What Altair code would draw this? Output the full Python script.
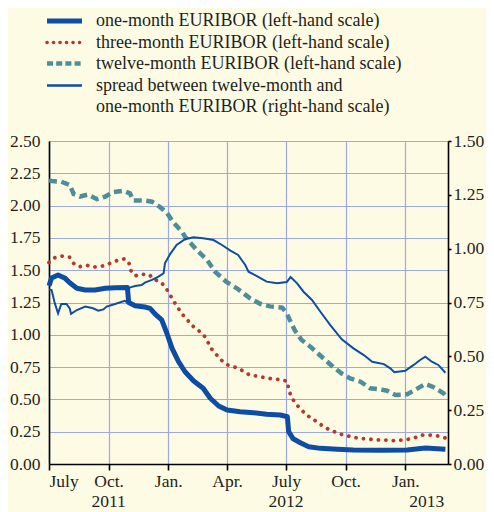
import altair as alt
import pandas as pd

# ---------------- data ----------------
one_month_dates = [
    "2011-07-01", "2011-07-05", "2011-07-15", "2011-07-26", "2011-08-02", "2011-08-13",
    "2011-08-26", "2011-09-10", "2011-09-26", "2011-10-11", "2011-10-30", "2011-11-01",
    "2011-11-11", "2011-11-26", "2011-12-04", "2011-12-12", "2011-12-22", "2011-12-30",
    "2012-01-07", "2012-01-17", "2012-01-27", "2012-02-09", "2012-02-24", "2012-03-06",
    "2012-03-19", "2012-04-01", "2012-04-21", "2012-05-12", "2012-06-01", "2012-06-22",
    "2012-07-03", "2012-07-05", "2012-07-12", "2012-07-23", "2012-08-05", "2012-08-23",
    "2012-09-18", "2012-10-13", "2012-11-23", "2013-01-04", "2013-02-01", "2013-03-04",
]
one_month_vals = [
    1.38, 1.44, 1.463, 1.437, 1.403, 1.36,
    1.347, 1.347, 1.36, 1.365, 1.367, 1.25,
    1.225, 1.215, 1.205, 1.16, 1.115, 1.012,
    0.895, 0.792, 0.714, 0.645, 0.586, 0.509,
    0.449, 0.418, 0.405, 0.397, 0.385, 0.379,
    0.366, 0.25, 0.195, 0.165, 0.134, 0.121,
    0.114, 0.108, 0.106, 0.108, 0.124, 0.114,
]

three_month_dates = [
    "2011-07-01", "2011-07-10", "2011-07-22", "2011-08-02", "2011-08-08",
    "2011-08-17", "2011-08-28", "2011-09-10", "2011-09-21", "2011-10-03",
    "2011-10-14", "2011-10-25", "2011-11-01", "2011-11-04", "2011-11-11",
    "2011-11-21", "2011-12-03", "2011-12-09", "2011-12-21", "2011-12-28",
    "2012-01-03", "2012-01-09", "2012-01-15", "2012-01-22", "2012-01-30",
    "2012-02-06", "2012-02-17", "2012-02-25", "2012-03-02", "2012-03-08",
    "2012-03-16", "2012-03-24", "2012-04-03", "2012-04-14", "2012-04-25",
    "2012-05-05", "2012-05-18", "2012-05-30", "2012-06-11", "2012-06-23",
    "2012-07-03", "2012-07-05", "2012-07-09", "2012-07-15", "2012-07-23",
    "2012-08-01", "2012-08-10", "2012-08-20", "2012-08-29", "2012-09-09",
    "2012-09-20", "2012-09-30", "2012-10-13", "2012-10-25", "2012-11-05",
    "2012-11-18", "2012-11-30", "2012-12-11", "2012-12-23", "2013-01-05",
    "2013-01-16", "2013-01-28", "2013-02-08", "2013-02-20", "2013-03-04",
]
three_month_vals = [
    1.56, 1.597, 1.61, 1.60, 1.553,
    1.527, 1.538, 1.525, 1.532, 1.553,
    1.574, 1.587, 1.565, 1.50, 1.457,
    1.468, 1.465, 1.432, 1.406, 1.367,
    1.316, 1.264, 1.218, 1.163, 1.12,
    1.076, 1.032, 0.998, 0.947, 0.89,
    0.844, 0.80, 0.764, 0.748, 0.722,
    0.691, 0.679, 0.668, 0.658, 0.652,
    0.64, 0.578, 0.521, 0.472, 0.428,
    0.382, 0.351, 0.32, 0.284, 0.261,
    0.235, 0.222, 0.207, 0.196, 0.194,
    0.186, 0.186, 0.18, 0.183, 0.191,
    0.204, 0.224, 0.224, 0.217, 0.201,
]

twelve_month_dates = [
    "2011-07-01", "2011-07-05", "2011-07-20", "2011-08-02", "2011-08-08", "2011-08-18", "2011-08-30",
    "2011-09-13", "2011-09-26", "2011-10-08", "2011-10-24", "2011-11-03", "2011-11-08", "2011-11-24",
    "2011-12-07", "2011-12-19", "2011-12-30", "2012-01-09", "2012-01-22", "2012-01-27", "2012-02-14",
    "2012-03-01", "2012-03-13", "2012-03-31", "2012-04-16", "2012-05-07", "2012-05-22", "2012-06-06",
    "2012-06-25", "2012-07-02", "2012-07-12", "2012-07-15", "2012-07-25", "2012-08-07", "2012-08-25",
    "2012-09-12", "2012-09-25", "2012-10-08", "2012-10-24", "2012-11-08", "2012-11-23", "2012-12-04",
    "2012-12-17", "2013-01-04", "2013-01-16", "2013-02-01", "2013-02-14", "2013-03-01", "2013-03-04",
]
twelve_month_vals = [
    2.195, 2.19, 2.185, 2.16, 2.09, 2.07, 2.085,
    2.05, 2.07, 2.105, 2.115, 2.095, 2.04, 2.04,
    2.03, 1.99, 1.945, 1.87, 1.80, 1.76, 1.656,
    1.58, 1.49, 1.41, 1.36, 1.28, 1.24, 1.22,
    1.21, 1.165, 1.06, 1.03, 0.96, 0.91, 0.83,
    0.75, 0.70, 0.663, 0.637, 0.586, 0.578, 0.567,
    0.534, 0.54, 0.573, 0.62, 0.594, 0.547, 0.53,
]

spread_dates = [
    "2011-07-01", "2011-07-05", "2011-07-10", "2011-07-15", "2011-07-20", "2011-07-28",
    "2011-08-02", "2011-08-04", "2011-08-13", "2011-08-26", "2011-09-07", "2011-09-15",
    "2011-09-23", "2011-09-28", "2011-10-11", "2011-10-26", "2011-10-31", "2011-11-02",
    "2011-11-11", "2011-11-21", "2011-11-26", "2011-12-07", "2011-12-17", "2011-12-25",
    "2011-12-27", "2012-01-04", "2012-01-14", "2012-01-27", "2012-02-09", "2012-02-24",
    "2012-03-11", "2012-03-24", "2012-04-06", "2012-04-18", "2012-04-29", "2012-05-04",
    "2012-05-17", "2012-06-01", "2012-06-17", "2012-07-02", "2012-07-08", "2012-07-18",
    "2012-07-28", "2012-08-10", "2012-08-23", "2012-09-07", "2012-09-25", "2012-10-13",
    "2012-10-29", "2012-11-11", "2012-11-29", "2012-12-09", "2012-12-15", "2013-01-01",
    "2013-01-14", "2013-01-24", "2013-02-01", "2013-02-11", "2013-02-21", "2013-03-04",
]
spread_vals = [
    0.81, 0.808, 0.746, 0.70, 0.743, 0.743,
    0.723, 0.697, 0.715, 0.731, 0.723, 0.712,
    0.718, 0.731, 0.743, 0.758, 0.749, 0.819,
    0.827, 0.831, 0.842, 0.855, 0.87, 0.886,
    0.932, 0.975, 1.017, 1.044, 1.053, 1.048,
    1.04, 1.017, 0.991, 0.971, 0.924, 0.893,
    0.873, 0.847, 0.839, 0.845, 0.868, 0.839,
    0.80, 0.762, 0.707, 0.646, 0.579, 0.537,
    0.506, 0.475, 0.464, 0.444, 0.426, 0.433,
    0.46, 0.483, 0.498, 0.475, 0.46, 0.424,
]

legend_labels = [
    "one-month EURIBOR (left-hand scale)",
    "three-month EURIBOR (left-hand scale)",
    "twelve-month EURIBOR (left-hand scale)",
    "spread between twelve-month and",
    "one-month EURIBOR (right-hand scale)",
]

left_ticks = [0.0, 0.25, 0.5, 0.75, 1.0, 1.25, 1.5, 1.75, 2.0, 2.25, 2.5]
right_ticks = [0.0, 0.25, 0.5, 0.75, 1.0, 1.25, 1.5]
tick_months = [(2011, 7), (2011, 10), (2012, 1), (2012, 4), (2012, 7), (2012, 10), (2013, 1)]
month_names = {1: "Jan.", 4: "Apr.", 7: "July", 10: "Oct."}
year_labels = ["2011", "2012", "2013"]
year_label_dates = ["2011-10-01", "2012-07-01", "2013-02-03"]

# ---------------- styling ----------------
BG = "#FEFBE5"
BLUE = "#0E4DA4"
RED = "#B23A2E"
TEAL = "#4E8D9A"
GRID = "#9DA9E6"
TXT = "#231F20"
FONT = "Liberation Serif"
FS = 17.5
FS_LEG = 18

W, H = 399, 323

df_one = pd.DataFrame({"date": one_month_dates, "value": one_month_vals})
df_three = pd.DataFrame({"date": three_month_dates, "value": three_month_vals})
df_twelve = pd.DataFrame({"date": twelve_month_dates, "value": twelve_month_vals})
df_spread = pd.DataFrame({"date": spread_dates, "value": spread_vals})

x_scale = alt.Scale(
    type="utc",
    domain=[alt.DateTime(year=2011, month=7, date=1, utc=True),
            alt.DateTime(year=2013, month=3, date=8, utc=True)],
)

label_expr = " : ".join(
    f"utcmonth(datum.value)=={m - 1} ? '{n}'" for m, n in month_names.items()
) + " : ''"

x_axis = alt.Axis(
    values=[alt.DateTime(year=y, month=m, date=1, utc=True) for y, m in tick_months],
    labelExpr=label_expr,
    title=None,
    grid=True, gridColor=GRID, gridWidth=1.2,
    domainColor="black", domainWidth=1.6,
    tickColor="black", tickSize=6, tickWidth=1.6,
    labelFont=FONT, labelFontSize=FS, labelColor=TXT, labelPadding=2,
)
x_enc = alt.X("date:T", scale=x_scale, axis=x_axis)

left_axis = alt.Axis(
    values=left_ticks, format=".2f", title=None,
    grid=True, gridColor=GRID, gridWidth=1.2,
    domainColor="black", domainWidth=1.6, ticks=False,
    labelFont=FONT, labelFontSize=FS, labelColor=TXT, labelPadding=9,
)
left_scale = alt.Scale(domain=[0, 2.5], nice=False, zero=True)
y_left = alt.Y("value:Q", scale=left_scale, axis=left_axis)

right_axis = alt.Axis(
    orient="right", values=right_ticks, format=".2f", title=None,
    grid=False, domainColor="black", domainWidth=1.6,
    tickColor="black", tickSize=3, tickWidth=1.6,
    labelFont=FONT, labelFontSize=FS, labelColor=TXT, labelPadding=2,
)
right_scale = alt.Scale(domain=[0, 1.5], nice=False, zero=True)

one = alt.Chart(df_one).mark_line(color=BLUE, strokeWidth=5, strokeJoin="round").encode(
    x=x_enc, y=y_left
)
three = alt.Chart(df_three).mark_line(
    color=RED, strokeWidth=3.8, strokeDash=[0.1, 7.4], strokeCap="round"
).encode(x=x_enc, y=y_left)
twelve = alt.Chart(df_twelve).mark_line(
    color=TEAL, strokeWidth=4.5, strokeDash=[8, 4.5]
).encode(x=x_enc, y=y_left)

left_layer = alt.layer(one, three, twelve)

spread = alt.Chart(df_spread).mark_line(color=BLUE, strokeWidth=2).encode(
    x=x_enc, y=alt.Y("value:Q", scale=right_scale, axis=right_axis)
)

years = alt.Chart(pd.DataFrame({"year": year_labels, "date": year_label_dates})).mark_text(
    font=FONT, fontSize=FS, color=TXT, baseline="middle", align="center"
).encode(x=x_enc, y=alt.value(H + 38), text="year:N")

# ---------------- legend (drawn by hand) ----------------
legend_layers = []
row_y = [-120, -98.5, -77.5, -55.5, -34.5]
sample_styles = [
    dict(color=BLUE, strokeWidth=5),
    dict(color=RED, strokeWidth=3.6, strokeDash=[0.1, 6.4], strokeCap="round"),
    dict(color=TEAL, strokeWidth=4.5, strokeDash=[6, 3.2]),
    dict(color=BLUE, strokeWidth=2.5),
]
dummy = pd.DataFrame({"k": [0]})
for i, style in enumerate(sample_styles):
    legend_layers.append(
        alt.Chart(dummy).mark_rule(**style).encode(
            x=alt.value(-2), x2=alt.value(33), y=alt.value(row_y[i])
        )
    )
for i, lab in enumerate(legend_labels):
    legend_layers.append(
        alt.Chart(dummy).mark_text(
            text=lab, font=FONT, fontSize=FS_LEG, color=TXT, align="left", baseline="middle"
        ).encode(x=alt.value(47), y=alt.value(row_y[i]))
    )

chart = alt.layer(left_layer, spread, years, *legend_layers).resolve_scale(
    y="independent"
).properties(
    width=W, height=H,
    autosize=alt.AutoSizeParams(type="none"),
    padding={"left": 41, "top": 133, "right": 38, "bottom": 48},
    background=BG,
).configure_view(stroke=None)

chart.save("out.html", embed_options={"renderer": "svg", "actions": False})
